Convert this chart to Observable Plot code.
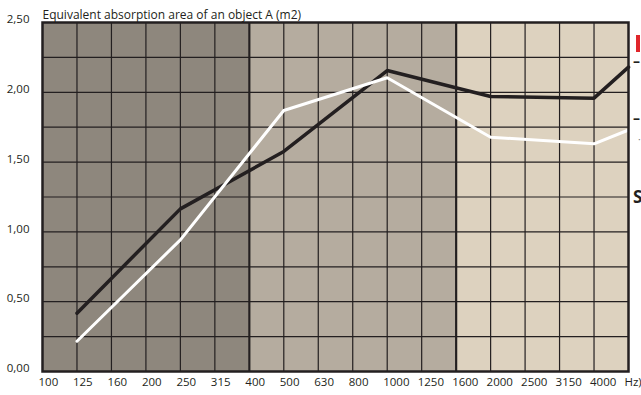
<!DOCTYPE html>
<html><head><meta charset="utf-8">
<script src="https://cdn.jsdelivr.net/npm/d3@7"></script>
<script src="https://cdn.jsdelivr.net/npm/@observablehq/plot@0.6"></script>
<style>
html,body{margin:0;padding:0;background:#fff;overflow:hidden;width:641px;height:395px;}
#wrap{position:relative;width:641px;height:395px;overflow:hidden;}
#chart svg{display:block;}
.leg{position:absolute;font-family:"Open Sans",sans-serif;white-space:nowrap;}
</style></head>
<body><div id="wrap"><div id="chart"></div>
<div style="position:absolute;left:636px;top:35px;width:4px;height:17px;background:#e0262b;"></div>
<div class="leg" style="left:633px;top:55px;color:#231f20;font-weight:700;font-size:14px;line-height:11px;">–</div>
<div class="leg" style="left:633px;top:112px;color:#231f20;font-weight:700;font-size:14px;line-height:11px;">–</div>
<div class="leg" style="left:638px;top:135px;color:#777;font-size:10px;line-height:9px;">·</div>
<div class="leg" style="left:633px;top:188px;color:#231f20;font-weight:700;font-size:17px;line-height:18px;">S</div>
</div>
<script>
const title = "Equivalent absorption area of an object A (m2)";
const freqLabels = ["100","125","160","200","250","315","400","500","630","800","1000","1250","1600","2000","2500","3150","4000","Hz)"];
const pointIndex = [1, 4, 7, 10, 13, 16, 17];
const darkSeries = [0.418, 1.165, 1.576, 2.156, 1.970, 1.958, 2.180];
const whiteSeries = [0.217, 0.943, 1.870, 2.104, 1.678, 1.631, 1.730];
const yTicks = [0, 0.5, 1, 1.5, 2, 2.5];
const yGrid = [0.25, 0.5, 0.75, 1, 1.25, 1.5, 1.75, 2, 2.25];
const bandStart = [0, 6, 12];
const bandEnd = [6, 12, 17];
const bandColor = ["#8e877d", "#b5ac9f", "#ddd2bf"];

const bands = bandStart.map((s, i) => ({x1: s, x2: bandEnd[i], fill: bandColor[i]}));
const dark = pointIndex.map((x, i) => ({x, y: darkSeries[i]}));
const white = pointIndex.map((x, i) => ({x, y: whiteSeries[i]}));
const thinX = d3.range(1, 17).filter(i => i !== 6 && i !== 12);
const thickX = [6, 12];

const chart = Plot.plot({
  width: 641, height: 395,
  marginLeft: 42, marginRight: 13, marginTop: 22, marginBottom: 24,
  style: {fontFamily: "'Open Sans', sans-serif", fontSize: "11px", color: "#231f20", background: "#fff"},
  x: {domain: [0, 17], axis: null},
  y: {domain: [0, 2.5], axis: null},
  marks: [
    Plot.rect(bands, {x1: "x1", x2: "x2", y1: 0, y2: 2.5, fill: d => d.fill}),
    Plot.ruleY(yGrid, {stroke: "#231f20", strokeWidth: 1.2}),
    Plot.ruleX(thinX, {stroke: "#231f20", strokeWidth: 1.2}),
    Plot.ruleX(thickX, {stroke: "#231f20", strokeWidth: 2.2}),
    Plot.line(dark, {x: "x", y: "y", stroke: "#231f20", strokeWidth: 3.5, strokeLinejoin: "miter"}),
    Plot.line(white, {x: "x", y: "y", stroke: "#ffffff", strokeWidth: 3, strokeLinejoin: "miter"}),
    Plot.frame({stroke: "#231f20", strokeWidth: 2.5}),
    Plot.axisX(d3.range(0, 18), {tickSize: 0, tickPadding: 6, textAnchor: "start", dx: -4,
      tickFormat: i => freqLabels[i], fontSize: 11.5, fill: "#231f20", label: null}),
    Plot.axisY(yTicks, {tickSize: 0, tickPadding: 13, dy: -3,
      tickFormat: d => d.toFixed(2).replace(".", ","), fontSize: 11.5, fill: "#231f20", label: null}),
    Plot.text([title], {frameAnchor: "top-left", text: d => d, textAnchor: "start", lineAnchor: "bottom",
      dy: -4, fontSize: 12, fill: "#231f20"})
  ]
});
document.getElementById("chart").appendChild(chart);
</script>
</body></html>
